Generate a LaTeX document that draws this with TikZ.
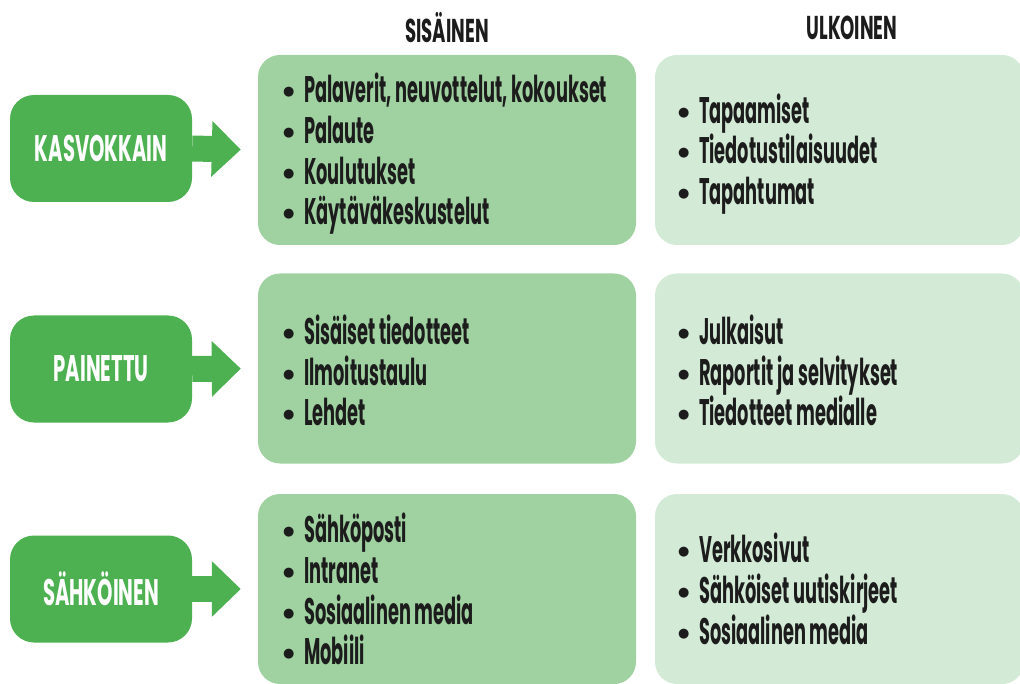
\documentclass[tikz,border=0pt]{standalone}
\usepackage{fontspec}
\setmainfont{Poppins}[FakeStretch=0.55]
\newfontfamily\listfont{Poppins}[FakeStretch=0.48]
\newfontfamily\labelfont{Poppins}[FakeStretch=0.53]
\newfontfamily\headfont{Poppins}[FakeStretch=0.55]
\newfontfamily\dejavu{DejaVu Sans}
\usetikzlibrary{arrows.meta}
\definecolor{dgreen}{HTML}{4DB151}
\definecolor{mgreen}{HTML}{9FD2A0}
\definecolor{lgreen}{HTML}{D3EBD6}
\definecolor{ink}{HTML}{1C1C1C}
\tikzset{
  catbox/.style={fill=dgreen, rounded corners=24pt, minimum width=182pt, minimum height=107pt,
    inner sep=0pt, text=white, font=\labelfont\bfseries\fontsize{37}{40}\selectfont},
  midbox/.style={fill=mgreen, rounded corners=22pt, minimum width=378pt, minimum height=190pt, inner sep=0pt},
  extbox/.style={fill=lgreen, rounded corners=22pt, minimum width=369pt, minimum height=190pt, inner sep=0pt},
  listtext/.style={anchor=west, align=left, inner sep=0pt, text=ink,
    font=\listfont\bfseries\fontsize{37}{40.7}\selectfont},
  head/.style={text=ink, inner sep=0pt, font=\headfont\bfseries\fontsize{33}{35}\selectfont},
  bigarrow/.style={draw=dgreen, line width=26pt, -{Triangle[length=29pt, width=54pt]}, shorten >=17pt}
}
\newcommand{\bul}{\makebox[21pt][l]{\raisebox{7pt}{\dejavu\fontsize{13}{13}\selectfont ●}}}
\begin{document}
\begin{tikzpicture}[x=1pt,y=-1pt]
\useasboundingbox (0,0) rectangle (1020,684);
\clip (0,0) rectangle (1020,684);
\node[head] (hs) at (447,28) {SISÄINEN};
\node[head] (hu) at (852,28) {ULKOINEN};
% row 1
\node[catbox] (c1) at (101,148.5) {KASVOKKAIN};
\node[midbox] (m1) at (447,150) {};
\node[extbox] (e1) at (839.5,150) {};
\draw[bigarrow] (c1.east) -- (m1.west);
\node[listtext] (l1) at (283,154) {\bul Palaverit, neuvottelut, kokoukset\\\bul Palaute\\\bul Koulutukset\\\bul Käytäväkeskustelut};
\node[listtext] (r1) at (678,154) {\bul Tapaamiset\\\bul Tiedotustilaisuudet\\\bul Tapahtumat};
% row 2
\node[catbox] (c2) at (101,369) {PAINETTU};
\node[midbox] (m2) at (447,368.5) {};
\node[extbox] (e2) at (839.5,368.5) {};
\draw[bigarrow] (c2.east) -- (m2.west);
\node[listtext] (l2) at (283,370.5) {\bul Sisäiset tiedotteet\\\bul Ilmoitustaulu\\\bul Lehdet};
\node[listtext] (r2) at (678,370.5) {\bul Julkaisut\\\bul Raportit ja selvitykset\\\bul Tiedotteet medialle};
% row 3
\node[catbox] (c3) at (101,589) {SÄHKÖINEN};
\node[midbox] (m3) at (447,589) {};
\node[extbox] (e3) at (839.5,589) {};
\draw[bigarrow] (c3.east) -- (m3.west);
\node[listtext] (l3) at (283,589) {\bul Sähköposti\\\bul Intranet\\\bul Sosiaalinen media\\\bul Mobiili};
\node[listtext] (r3) at (678,589) {\bul Verkkosivut\\\bul Sähköiset uutiskirjeet\\\bul Sosiaalinen media};
\end{tikzpicture}
\end{document}
